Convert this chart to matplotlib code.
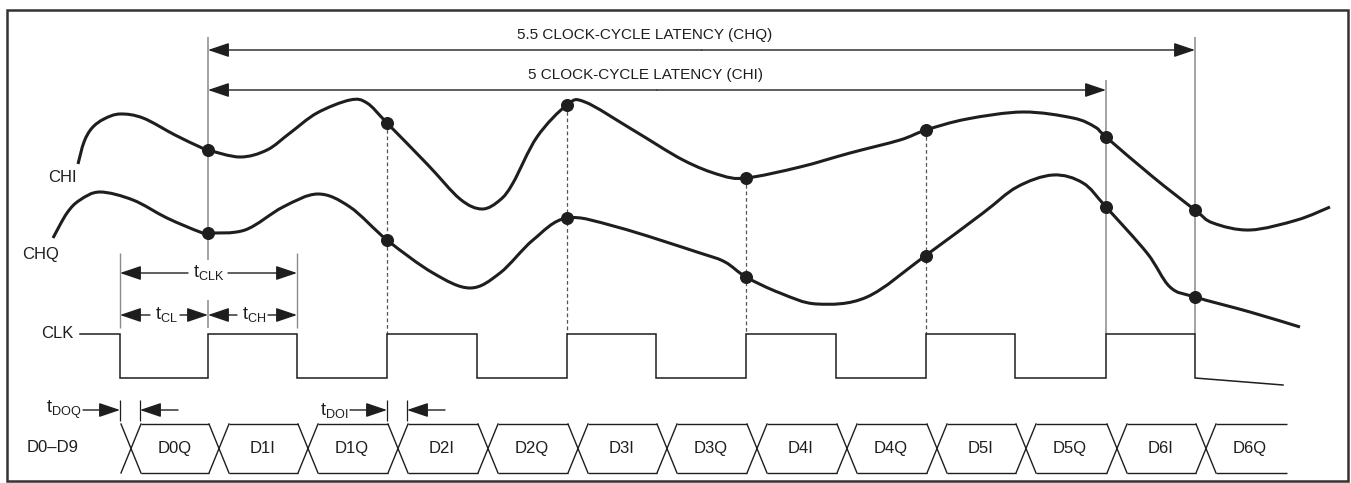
import numpy as np
import matplotlib
matplotlib.use("Agg")
import matplotlib.pyplot as plt
from matplotlib.path import Path
from matplotlib.patches import PathPatch, Rectangle

plt.rcParams["font.family"] = ["Liberation Sans", "DejaVu Sans"]
plt.rcParams["mathtext.fontset"] = "custom"
plt.rcParams["mathtext.rm"] = "Liberation Sans"
plt.rcParams["mathtext.it"] = "Liberation Sans"

INK = "#1e1e1e"
GRAY = "#8a8a8a"

# clock edges (pixel x), first edge is a falling one
CLK_EDGES = [120, 208, 297, 387, 477, 567, 656, 746, 836, 926, 1015, 1106, 1195]
CLK_START = 80
CLK_HIGH = 334
CLK_LOW = 378
CLK_TAIL = (1283, 385)

# data bus
DATA_LABELS = ["D0Q", "D1I", "D1Q", "D2I", "D2Q", "D3I", "D3Q",
               "D4I", "D4Q", "D5I", "D5Q", "D6I", "D6Q"]
DATA_DELAY = 11
DATA_HALF = 10
DATA_TOP = 424
DATA_BOT = 473
DATA_END = 1287

# analog input curves
CHI_X = [78, 84, 92, 104, 120, 143, 175, 200, 208, 240, 267, 290, 317, 350, 367, 387,
         428, 460, 482, 500, 513, 537, 567, 585, 633, 683, 720, 746, 800, 850,
         900, 926, 967, 1023, 1073, 1095, 1106, 1153, 1195, 1213, 1250, 1297, 1330]
CHI_Y = [164, 142, 128, 119, 114, 118, 135, 147, 150, 157, 150, 133, 113, 100, 103, 123,
         165, 199, 209, 200, 183, 137, 105, 102, 130, 160, 175, 178, 167, 153,
         140, 130, 119, 112, 118, 127, 137, 177, 210, 223, 230, 220, 207]
CHQ_X = [53, 67, 80, 100, 133, 167, 200, 208, 245, 283, 318, 350, 387, 433, 470,
         500, 533, 567, 617, 700, 725, 746, 780, 817, 867, 925, 983, 1017, 1053,
         1083, 1106, 1147, 1170, 1195, 1250, 1300]
CHQ_Y = [238, 213, 200, 192, 200, 218, 232, 233, 230, 207, 194, 207, 240, 273, 288,
         273, 240, 218, 227, 253, 262, 277, 293, 304, 297, 256, 213, 187, 175,
         183, 207, 253, 287, 297, 312, 327]

# sampling instants and dot levels
SAMPLE_X = [208, 387, 567, 746, 926, 1106, 1195]
CHI_DOTS = [150, 123, 105, 178, 130, 137, 210]
CHQ_DOTS = [233, 240, 218, 277, 256, 207, 297]
DASHED_X = [387, 567, 746, 926]

LAT_START = 208
LAT_CHQ = (1195, 50, "5.5 CLOCK-CYCLE LATENCY (CHQ)")
LAT_CHI = (1106, 90, "5 CLOCK-CYCLE LATENCY (CHI)")


def smooth_path(xs, ys):
    pts = np.column_stack([xs, ys]).astype(float)
    verts = [pts[0]]
    codes = [Path.MOVETO]
    n = len(pts)
    for i in range(n - 1):
        p0 = pts[max(i - 1, 0)]
        p1 = pts[i]
        p2 = pts[i + 1]
        p3 = pts[min(i + 2, n - 1)]
        verts += [p1 + (p2 - p0) / 6.0, p2 - (p3 - p1) / 6.0, p2]
        codes += [Path.CURVE4] * 3
    return Path(verts, codes)


def arrow(ax, x_from, x_to, y):
    ax.annotate("", xy=(x_to, y), xytext=(x_from, y),
                arrowprops=dict(arrowstyle="-|>,head_length=0.65,head_width=0.22",
                                mutation_scale=20, lw=1.0, color=INK,
                                shrinkA=0, shrinkB=0))


def main() -> None:
    fig = plt.figure(figsize=(13.51, 4.83), dpi=100)
    ax = fig.add_axes([0, 0, 1, 1])
    ax.set_xlim(0, 1351)
    ax.set_ylim(483, 0)
    ax.axis("off")

    ax.add_patch(Rectangle((7, 10), 1341, 471, fill=False, lw=1.8, ec="#333333"))

    # sampling verticals
    ax.vlines(SAMPLE_X[0], 37, 260, color=GRAY, lw=1.1)
    ax.vlines(SAMPLE_X[0], 300, 328, color=GRAY, lw=1.1)
    ax.vlines(SAMPLE_X[5], 80, CLK_HIGH, color=GRAY, lw=1.1)
    ax.vlines(SAMPLE_X[6], 37, CLK_HIGH, color=GRAY, lw=1.1)
    for x, y in zip(SAMPLE_X, CHI_DOTS):
        if x in DASHED_X:
            ax.plot([x, x], [y, CLK_HIGH], color="#555555", lw=0.9,
                    dashes=(3, 2.2))

    # curves
    for xs, ys in [(CHI_X, CHI_Y), (CHQ_X, CHQ_Y)]:
        ax.add_patch(PathPatch(smooth_path(xs, ys), fill=False, lw=2.2,
                               ec=INK, capstyle="butt"))
    ax.scatter(SAMPLE_X, CHI_DOTS, s=70, color=INK, zorder=5)
    ax.scatter(SAMPLE_X, CHQ_DOTS, s=70, color=INK, zorder=5)

    # clock
    cx, cy = [CLK_START], [CLK_HIGH]
    level = CLK_HIGH
    for e in CLK_EDGES:
        nxt = CLK_LOW if level == CLK_HIGH else CLK_HIGH
        cx += [e, e]
        cy += [level, nxt]
        level = nxt
    cx.append(CLK_TAIL[0])
    cy.append(CLK_TAIL[1])
    ax.plot(cx, cy, color=INK, lw=1.1, solid_joinstyle="miter")

    # data bus
    cross = [e + DATA_DELAY for e in CLK_EDGES]
    for c in cross:
        ax.plot([c - DATA_HALF, c + DATA_HALF], [DATA_TOP, DATA_BOT], color=INK, lw=1.0)
        ax.plot([c - DATA_HALF, c + DATA_HALF], [DATA_BOT, DATA_TOP], color=INK, lw=1.0)
    ends = cross[1:] + [DATA_END + DATA_HALF]
    step = cross[1] - cross[0]
    for c, nxt, lab in zip(cross, ends, DATA_LABELS):
        ax.hlines([DATA_TOP, DATA_BOT], c + DATA_HALF, nxt - DATA_HALF, color=INK, lw=1.0)
        ax.text(c + step / 2, (DATA_TOP + DATA_BOT) / 2, lab, ha="center",
                va="center", fontsize=12, color=INK)

    # latency arrows
    for end, y, label in [LAT_CHQ, LAT_CHI]:
        arrow(ax, (LAT_START + end) / 2, LAT_START, y)
        arrow(ax, (LAT_START + end) / 2, end, y)
        ax.text(645, y - 15, label, ha="center", va="center", fontsize=11, color=INK)

    # tCLK, tCL, tCH
    e0, e1, e2 = CLK_EDGES[0], CLK_EDGES[1], CLK_EDGES[2]
    ax.vlines([e0, e2], 253, 328, color=GRAY, lw=1.0)
    y_clk = 273
    arrow(ax, 188, e0, y_clk)
    arrow(ax, 228, e2, y_clk)
    ax.text((e0 + e2) / 2, y_clk, r"$\mathrm{t_{CLK}}$", ha="center", va="center",
            fontsize=13, color=INK)
    y_cl = 315
    arrow(ax, 150, e0, y_cl)
    arrow(ax, 180, e1, y_cl)
    ax.text((e0 + e1) / 2 + 2, y_cl, r"$\mathrm{t_{CL}}$", ha="center", va="center",
            fontsize=13, color=INK)
    arrow(ax, 237, e1, y_cl)
    arrow(ax, 268, e2, y_cl)
    ax.text((e1 + e2) / 2 + 2, y_cl, r"$\mathrm{t_{CH}}$", ha="center", va="center",
            fontsize=13, color=INK)

    # output delays
    y_d = 410
    for edge, label in [(CLK_EDGES[0], r"$\mathrm{t_{DOQ}}$"),
                        (CLK_EDGES[3], r"$\mathrm{t_{DOI}}$")]:
        settle = edge + 2 * DATA_HALF
        ax.vlines([edge, settle], 400, 421, color=INK, lw=0.9)
        arrow(ax, edge - 37, edge, y_d)
        arrow(ax, settle + 38, settle, y_d)
        ax.text(edge - 39, y_d, label, ha="right", va="center", fontsize=13, color=INK)

    # signal names
    ax.text(62, 178, "CHI", ha="center", va="center", fontsize=12, color=INK)
    ax.text(41, 255, "CHQ", ha="center", va="center", fontsize=12, color=INK)
    ax.text(73, 334, "CLK", ha="right", va="center", fontsize=12, color=INK)
    ax.text(53, 448, "D0\u2013D9", ha="center", va="center", fontsize=12, color=INK)

    fig.savefig("out.png", dpi=100)
    plt.close(fig)


if __name__ == "__main__":
    main()
